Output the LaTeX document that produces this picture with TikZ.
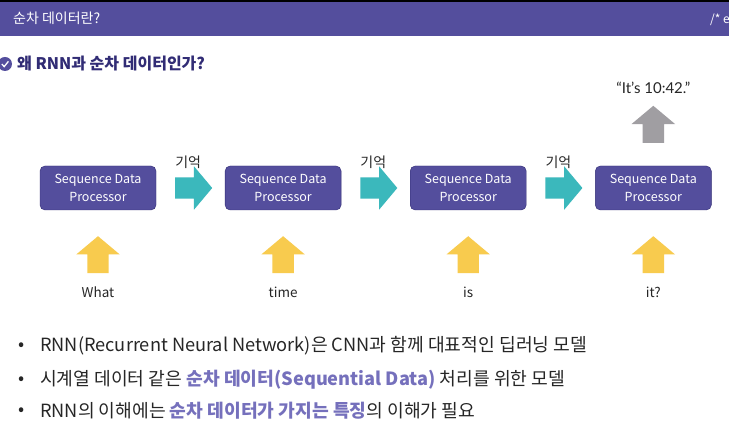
\documentclass[tikz,border=0pt]{standalone}
\usepackage{fontspec}
\setmainfont{Noto Sans CJK KR}
\newfontfamily\latofont{Lato}
\usepackage{xcolor}
\usetikzlibrary{positioning,shapes.arrows}
\definecolor{primarypurple}{HTML}{544E9D}
\definecolor{darknavy}{HTML}{312C75}
\definecolor{lightpurple}{HTML}{7570BC}
\definecolor{tealarrow}{HTML}{3BB8BC}
\definecolor{goldarrow}{HTML}{F8CB4E}
\definecolor{greyarrow}{HTML}{A09EA2}
\definecolor{bodytext}{HTML}{262626}
\newcommand{\hi}[1]{{\bfseries\color{lightpurple}#1}}

\begin{document}
\begin{tikzpicture}[
  x=1pt, y=1pt,
  proc/.style={draw=darknavy, rounded corners=5pt, fill=primarypurple, text=white,
              minimum width=116pt, minimum height=44pt, inner sep=0pt,
              font=\fontsize{12.5}{18}\selectfont, align=center},
  blockarrow/.style={single arrow, single arrow head extend=11pt, single arrow tip angle=100,
              inner sep=0pt, outer sep=0pt, minimum height=37pt, minimum width=43pt},
  nextarrow/.style={blockarrow, fill=tealarrow, text height=21pt, text depth=0pt, text width=0pt},
  inarrow/.style={blockarrow, fill=goldarrow, shape border rotate=90,
              text width=21pt, text height=0pt, text depth=0pt},
  outarrow/.style={blockarrow, fill=greyarrow, shape border rotate=90,
              text width=21pt, text height=0pt, text depth=0pt},
  memo/.style={font=\fontsize{14}{16}\selectfont, text=bodytext, inner sep=0pt},
  word/.style={font=\fontsize{13.5}{16}\selectfont, text=bodytext, inner sep=0pt,
              text height=10pt, text depth=3pt},
  bul/.style={font=\fontsize{18}{20}\selectfont, text=bodytext, inner sep=0pt},
  line/.style={font=\fontsize{18.2}{20}\selectfont, text=bodytext, inner sep=0pt, anchor=base west}
]
  \useasboundingbox (0,0) rectangle (729,431);
  \fill[white] (0,0) rectangle (729,431);

  % header band
  \fill[black] (0,429) rectangle (729,431);
  \fill[primarypurple] (0,395) rectangle (729,429);
  \node[anchor=base west, text=white, inner sep=0pt, font=\fontsize{14}{16}\selectfont] (head) at (13,407) {순차 데이터란?};
  \node[anchor=base west, text=white, inner sep=0pt, font=\fontsize{12}{14}\selectfont] (tag) at (710,407) {/* e};

  % title
  \node[circle, fill=primarypurple, minimum size=14pt, inner sep=0pt] (tick) at (5,367) {};
  \draw[white, line width=1.3pt] (1.8,367) -- (4.2,364.4) -- (8.4,369.6);
  \node[anchor=base west, text=darknavy, inner sep=0pt, font=\fontsize{16}{18}\selectfont\bfseries] (title) at (17,361) {왜 RNN과 순차 데이터인가?};

  % processors
  \node[proc] (proca) at (98,243) {Sequence Data\\Processor};
  \node[nextarrow, right=19pt of proca] (nexta) {};
  \node[proc, right=12.7pt of nexta] (procb) {Sequence Data\\Processor};
  \node[nextarrow, right=19pt of procb] (nextb) {};
  \node[proc, right=12.7pt of nextb] (procc) {Sequence Data\\Processor};
  \node[nextarrow, right=19pt of procc] (nextc) {};
  \node[proc, right=12.7pt of nextc] (procd) {Sequence Data\\Processor};

  \node[memo, above=8pt of nexta.north, xshift=-1pt] (memoa) {기억};
  \node[memo, above=8pt of nextb.north, xshift=-1pt] (memob) {기억};
  \node[memo, above=8pt of nextc.north, xshift=-1pt] (memoc) {기억};

  % inputs
  \node[inarrow, below=26pt of proca] (ina) {};
  \node[inarrow, below=26pt of procb] (inb) {};
  \node[inarrow, below=26pt of procc] (inc) {};
  \node[inarrow, below=26pt of procd] (ind) {};
  \node[word, below=14pt of ina] (worda) {What};
  \node[word, below=14pt of inb] (wordb) {time};
  \node[word, below=14pt of inc] (wordc) {is};
  \node[word, below=14pt of ind] (wordd) {it?};

  % output
  \node[outarrow, above=23pt of procd] (out) {};
  \node[word, above=9pt of out, font=\latofont\fontsize{15}{16}\selectfont] (said) {“It’s 10:42.”};

  % bullets
  \node[line] (lina) at (40,79) {RNN(Recurrent Neural Network)은 CNN과 함께 대표적인 딥러닝 모델};
  \node[line] (linb) at (40,45) {시계열 데이터 같은 \hi{순차 데이터(Sequential Data)} 처리를 위한 모델};
  \node[line] (linc) at (40,13) {RNN의 이해에는 \hi{순차 데이터가 가지는 특징}의 이해가 필요};
  \node[bul, left=15pt of lina.west] (bula) {•};
  \node[bul, left=15pt of linb.west] (bulb) {•};
  \node[bul, left=15pt of linc.west] (bulc) {•};
\end{tikzpicture}
\end{document}
